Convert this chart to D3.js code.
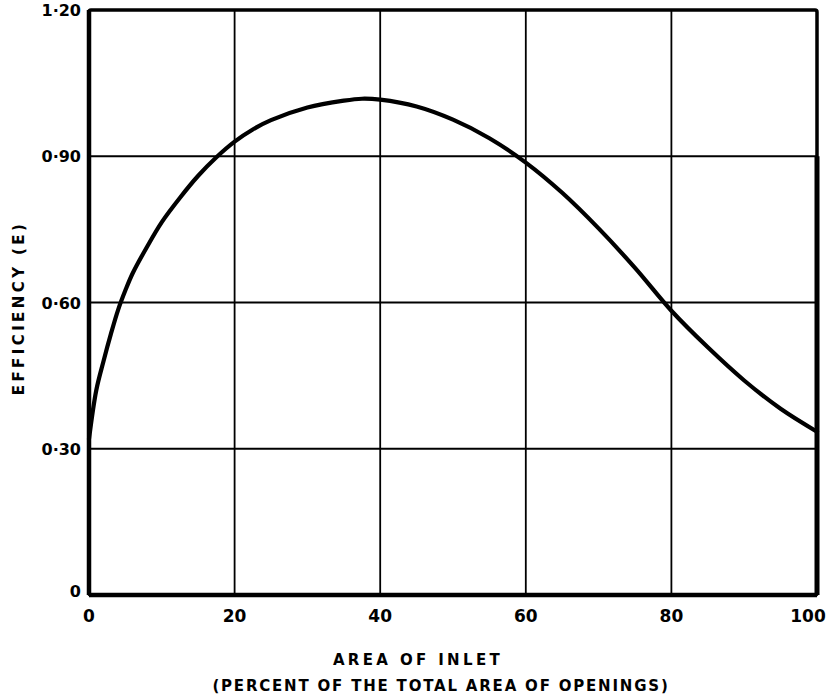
<!DOCTYPE html>
<html><head><meta charset="utf-8">
<script src="https://cdn.jsdelivr.net/npm/d3@7"></script>
<style>
body{margin:0;background:#fff;}
text{font-family:"DejaVu Sans",sans-serif;font-weight:bold;fill:#000;}
</style></head>
<body>
<svg id="chart" width="832" height="697"></svg>
<script>
// Data
const areaPct = [0,1,2,3,4,5,6,8,10,12.5,15,17.5,20,22.5,25,30,35,37.5,40,45,50,55,60,65,70,75,80,85,90,95,100];
const efficiency = [0.32,0.42,0.48,0.535,0.585,0.625,0.66,0.715,0.765,0.815,0.86,0.898,0.93,0.955,0.974,1.0,1.014,1.018,1.016,1.002,0.975,0.937,0.887,0.825,0.752,0.671,0.583,0.508,0.44,0.382,0.335];
const xTicks = [0,20,40,60,80,100];
const yTicks = [0,0.30,0.60,0.90,1.20];
const yTickLabels = ["0","0·30","0·60","0·90","1·20"];
const xTitle1 = "AREA OF INLET";
const xTitle2 = "(PERCENT OF THE TOTAL AREA OF OPENINGS)";
const yTitle = "EFFICIENCY (E)";

const svg = d3.select("#chart");
const m = {left:89, right:15, top:10, bottom:102};
const W = 832, H = 697;
const x = d3.scaleLinear().domain([0,100]).range([m.left, W - m.right]);
const y = d3.scaleLinear().domain([0,1.2]).range([H - m.bottom, m.top]);

// gridlines
const g = svg.append("g");
g.selectAll("line.vx").data(xTicks.slice(1,-1)).join("line")
  .attr("x1", d=>x(d)).attr("x2", d=>x(d)).attr("y1", y(1.2)).attr("y2", y(0))
  .attr("stroke","#000").attr("stroke-width",1.8);
g.selectAll("line.hy").data(yTicks.slice(1,-1)).join("line")
  .attr("x1", x(0)).attr("x2", x(100)).attr("y1", d=>y(d)).attr("y2", d=>y(d))
  .attr("stroke","#000").attr("stroke-width",1.8);

// frame
svg.append("rect").attr("x", x(0)).attr("y", y(1.2))
  .attr("width", x(100)-x(0)).attr("height", y(0)-y(1.2))
  .attr("fill","none").attr("stroke","#000").attr("stroke-width",3.5).attr("rx",2);
svg.append("line").attr("x1",x(0)).attr("x2",x(0)).attr("y1",y(1.2)).attr("y2",y(0))
  .attr("stroke","#000").attr("stroke-width",4.5);
svg.append("line").attr("x1",x(0)).attr("x2",x(100)).attr("y1",y(0)).attr("y2",y(0))
  .attr("stroke","#000").attr("stroke-width",4.5);
svg.append("line").attr("x1",x(100)).attr("x2",x(100)).attr("y1",y(0.9)).attr("y2",y(0))
  .attr("stroke","#000").attr("stroke-width",5);

// curve
const pts = areaPct.map((a,i)=>[a, efficiency[i]]);
const line = d3.line().x(d=>x(d[0])).y(d=>y(d[1])).curve(d3.curveCatmullRom.alpha(0.5));
svg.append("path").datum(pts).attr("d", line)
  .attr("fill","none").attr("stroke","#000").attr("stroke-width",4.2)
  .attr("stroke-linejoin","round").attr("stroke-linecap","round");

// axes labels
svg.selectAll("text.xt").data(xTicks).join("text")
  .attr("x", d=>x(d) + (d===100 ? -9 : 0)).attr("y", y(0)+27)
  .attr("text-anchor","middle").attr("font-size",17).text(d=>d);
svg.selectAll("text.yt").data(yTicks).join("text")
  .attr("x", x(0)-8).attr("y", d=>y(d)+ (d===0 ? 2 : 6))
  .attr("text-anchor","end").attr("font-size",16).text((d,i)=>yTickLabels[i]);

svg.append("text").attr("x", 418).attr("y", 665).attr("text-anchor","middle")
  .attr("font-size",15).attr("letter-spacing",3.35).text(xTitle1);
svg.append("text").attr("x", 441).attr("y", 691).attr("text-anchor","middle")
  .attr("font-size",15).attr("letter-spacing",1.8).text(xTitle2);
svg.append("text").attr("transform","translate(24,308) rotate(-90)")
  .attr("text-anchor","middle").attr("font-size",15).attr("letter-spacing",3.4).text(yTitle);
</script>
</body></html>
